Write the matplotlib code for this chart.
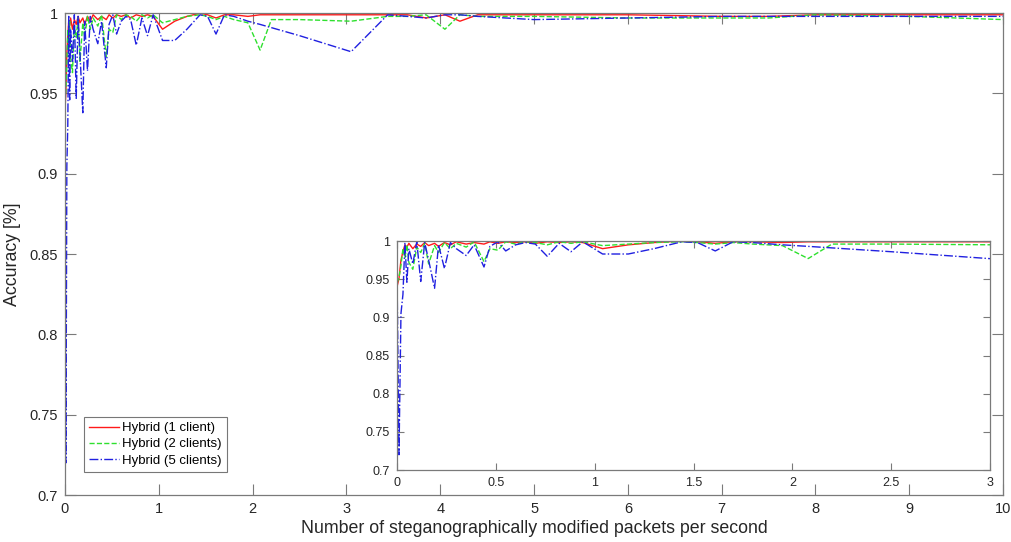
import matplotlib.pyplot as plt

plt.rcParams['font.family'] = ['Liberation Sans', 'DejaVu Sans']

# packets per second (shared sampling grid)
rate = [0, 0.01, 0.02, 0.03, 0.04, 0.05, 0.06, 0.08, 0.10, 0.12, 0.14, 0.16, 0.19,
        0.21, 0.24, 0.27, 0.30, 0.35, 0.39, 0.44, 0.47, 0.51, 0.55, 0.60, 0.65,
        0.70, 0.76, 0.82, 0.88, 0.94, 1.04, 1.17, 1.30, 1.44, 1.52, 1.61, 1.70,
        1.80, 1.95, 2.08, 2.20, 2.50, 3.05, 3.44, 3.65, 3.85, 4.05, 4.21, 4.40,
        5.00, 6.00, 7.00, 7.50, 8.00, 9.00, 10.0]

acc_1 = [0.940, 0.951, 0.975, 0.986, 0.995, 0.992, 0.997, 0.990, 0.996, 0.993,
         0.998, 0.994, 0.997, 0.993, 0.998, 0.995, 0.999, 0.996, 0.998, 0.996,
         0.999, 0.997, 0.999, 0.998, 0.999, 0.997, 0.999, 0.998, 0.999, 0.998,
         0.990, 0.995, 0.998, 1.000, 0.999, 0.997, 0.999, 0.999, 0.998, 0.999,
         0.999, 0.999, 0.999, 0.999, 0.999, 0.997, 0.999, 0.995, 0.999, 0.999,
         0.999, 0.998, 0.998, 0.999, 0.999, 0.999]

acc_2 = [0.945, 0.952, 0.968, 0.990, 0.978, 0.995, 0.972, 0.963, 0.992, 0.985,
         0.997, 0.970, 0.994, 0.985, 0.998, 0.990, 0.997, 0.992, 0.999, 0.973,
         0.990, 0.988, 0.999, 0.996, 0.999, 0.998, 0.995, 0.999, 0.997, 0.999,
         0.994, 0.996, 0.998, 0.999, 0.998, 0.996, 0.998, 0.996, 0.994, 0.977,
         0.996, 0.996, 0.995, 0.998, 0.998, 0.999, 0.990, 0.999, 0.998, 0.998,
         0.997, 0.997, 0.997, 0.999, 0.998, 0.996]

acc_5 = [0.960, 0.720, 0.905, 0.930, 0.998, 0.946, 0.990, 0.970, 0.999, 0.947,
         0.998, 0.975, 0.938, 0.995, 0.964, 0.998, 0.990, 0.981, 0.995, 0.966,
         0.993, 0.999, 0.987, 0.995, 0.998, 0.996, 0.980, 0.997, 0.986, 0.999,
         0.983, 0.983, 0.990, 0.999, 0.998, 0.987, 0.999, 0.998, 0.995, 0.993,
         0.991, 0.986, 0.976, 0.999, 0.998, 0.997, 0.999, 0.999, 0.998, 0.996,
         0.997, 0.998, 0.998, 0.998, 0.998, 0.998]

labels = ['Hybrid (1 client)', 'Hybrid (2 clients)', 'Hybrid (5 clients)']

y_ticks = [0.7, 0.75, 0.8, 0.85, 0.9, 0.95, 1.0]
y_ticklabels = ['0.7', '0.75', '0.8', '0.85', '0.9', '0.95', '1']
x_ticks_main = list(range(0, 11))
x_ticks_zoom = [0, 0.5, 1, 1.5, 2, 2.5, 3]
x_ticklabels_zoom = ['0', '0.5', '1', '1.5', '2', '2.5', '3']

edge = '#7a7a7a'
txt = '#262626'
styles = [('#ff1a1a', '-'), ('#2ee02e', '--'), ('#2020e0', '-.')]


def draw(ax, tick_size, tick_len):
    for vals, (c, ls), lab in zip([acc_1, acc_2, acc_5], styles, labels):
        ax.plot(rate, vals, color=c, linestyle=ls, linewidth=1.0, label=lab)
    ax.set_ylim(0.7, 1.0)
    ax.set_yticks(y_ticks)
    ax.set_yticklabels(y_ticklabels)
    ax.tick_params(direction='in', top=True, right=True, length=tick_len,
                   width=0.8, color=edge, labelcolor=txt, labelsize=tick_size, pad=5)
    for s in ax.spines.values():
        s.set_color(edge)
        s.set_linewidth(0.9)


fig = plt.figure(figsize=(10.12, 5.42), dpi=100)

ax = fig.add_axes([0.0642, 0.0867, 0.927, 0.889])
draw(ax, 10.5, 8)
ax.set_xlim(0, 10)
ax.set_xticks(x_ticks_main)
ax.set_xlabel('Number of steganographically modified packets per second',
              fontsize=12.8, color=txt, labelpad=3)
ax.set_ylabel('Accuracy [%]', fontsize=12.8, color=txt, labelpad=6)
leg = ax.legend(loc='lower left', bbox_to_anchor=(0.02, 0.048), fontsize=9.5,
                frameon=True, fancybox=False, handlelength=2.3, handletextpad=0.2,
                borderpad=0.4, labelspacing=0.3, borderaxespad=0)
leg.get_frame().set_edgecolor('#555555')
leg.get_frame().set_linewidth(0.8)

# zoomed view of the first three packets per second
axin = fig.add_axes([0.3923, 0.1328, 0.586, 0.4225])
draw(axin, 9, 5)
axin.set_xlim(0, 3)
axin.set_xticks(x_ticks_zoom)
axin.set_xticklabels(x_ticklabels_zoom)

fig.savefig('out.png', dpi=100)
